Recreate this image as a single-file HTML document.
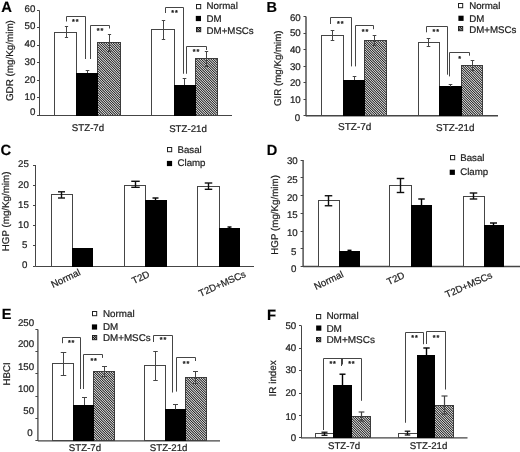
<!DOCTYPE html>
<html><head><meta charset="utf-8"><title>Figure</title>
<style>html,body{margin:0;padding:0;background:#fff;overflow:hidden;}svg{display:block;}text{font-family:"Liberation Sans",sans-serif;text-rendering:geometricPrecision;stroke:#222;stroke-width:0.22px;}</style>
</head><body>
<svg width="520" height="452" viewBox="0 0 520 452">
<defs>
<pattern id="hatch" width="48" height="48" patternUnits="userSpaceOnUse"><rect width="48" height="48" fill="#f4f4f4"/><path d="M-51.4,-1L-50.23,-1L-0.23,49L-1.4,49ZM-49,-1L-47.83,-1L2.17,49L1,49ZM-46.6,-1L-45.43,-1L4.57,49L3.4,49ZM-44.2,-1L-43.03,-1L6.97,49L5.8,49ZM-41.8,-1L-40.63,-1L9.37,49L8.2,49ZM-39.4,-1L-38.23,-1L11.77,49L10.6,49ZM-37,-1L-35.83,-1L14.17,49L13,49ZM-34.6,-1L-33.43,-1L16.57,49L15.4,49ZM-32.2,-1L-31.03,-1L18.97,49L17.8,49ZM-29.8,-1L-28.63,-1L21.37,49L20.2,49ZM-27.4,-1L-26.23,-1L23.77,49L22.6,49ZM-25,-1L-23.83,-1L26.17,49L25,49ZM-22.6,-1L-21.43,-1L28.57,49L27.4,49ZM-20.2,-1L-19.03,-1L30.97,49L29.8,49ZM-17.8,-1L-16.63,-1L33.37,49L32.2,49ZM-15.4,-1L-14.23,-1L35.77,49L34.6,49ZM-13,-1L-11.83,-1L38.17,49L37,49ZM-10.6,-1L-9.43,-1L40.57,49L39.4,49ZM-8.2,-1L-7.03,-1L42.97,49L41.8,49ZM-5.8,-1L-4.63,-1L45.37,49L44.2,49ZM-3.4,-1L-2.23,-1L47.77,49L46.6,49ZM-1,-1L0.17,-1L50.17,49L49,49ZM1.4,-1L2.57,-1L52.57,49L51.4,49ZM3.8,-1L4.97,-1L54.97,49L53.8,49ZM6.2,-1L7.37,-1L57.37,49L56.2,49ZM8.6,-1L9.77,-1L59.77,49L58.6,49ZM11,-1L12.17,-1L62.17,49L61,49ZM13.4,-1L14.57,-1L64.57,49L63.4,49ZM15.8,-1L16.97,-1L66.97,49L65.8,49ZM18.2,-1L19.37,-1L69.37,49L68.2,49ZM20.6,-1L21.77,-1L71.77,49L70.6,49ZM23,-1L24.17,-1L74.17,49L73,49ZM25.4,-1L26.57,-1L76.57,49L75.4,49ZM27.8,-1L28.97,-1L78.97,49L77.8,49ZM30.2,-1L31.37,-1L81.37,49L80.2,49ZM32.6,-1L33.77,-1L83.77,49L82.6,49ZM35,-1L36.17,-1L86.17,49L85,49ZM37.4,-1L38.57,-1L88.57,49L87.4,49ZM39.8,-1L40.97,-1L90.97,49L89.8,49ZM42.2,-1L43.37,-1L93.37,49L92.2,49ZM44.6,-1L45.77,-1L95.77,49L94.6,49ZM47,-1L48.17,-1L98.17,49L97,49Z" fill="#050505"/></pattern>
<pattern id="hatch2" width="48" height="48" patternUnits="userSpaceOnUse"><rect width="48" height="48" fill="#f4f4f4"/><path d="M-51.4,-1L-49.9,-1L0.1,49L-1.4,49ZM-49,-1L-47.5,-1L2.5,49L1,49ZM-46.6,-1L-45.1,-1L4.9,49L3.4,49ZM-44.2,-1L-42.7,-1L7.3,49L5.8,49ZM-41.8,-1L-40.3,-1L9.7,49L8.2,49ZM-39.4,-1L-37.9,-1L12.1,49L10.6,49ZM-37,-1L-35.5,-1L14.5,49L13,49ZM-34.6,-1L-33.1,-1L16.9,49L15.4,49ZM-32.2,-1L-30.7,-1L19.3,49L17.8,49ZM-29.8,-1L-28.3,-1L21.7,49L20.2,49ZM-27.4,-1L-25.9,-1L24.1,49L22.6,49ZM-25,-1L-23.5,-1L26.5,49L25,49ZM-22.6,-1L-21.1,-1L28.9,49L27.4,49ZM-20.2,-1L-18.7,-1L31.3,49L29.8,49ZM-17.8,-1L-16.3,-1L33.7,49L32.2,49ZM-15.4,-1L-13.9,-1L36.1,49L34.6,49ZM-13,-1L-11.5,-1L38.5,49L37,49ZM-10.6,-1L-9.1,-1L40.9,49L39.4,49ZM-8.2,-1L-6.7,-1L43.3,49L41.8,49ZM-5.8,-1L-4.3,-1L45.7,49L44.2,49ZM-3.4,-1L-1.9,-1L48.1,49L46.6,49ZM-1,-1L0.5,-1L50.5,49L49,49ZM1.4,-1L2.9,-1L52.9,49L51.4,49ZM3.8,-1L5.3,-1L55.3,49L53.8,49ZM6.2,-1L7.7,-1L57.7,49L56.2,49ZM8.6,-1L10.1,-1L60.1,49L58.6,49ZM11,-1L12.5,-1L62.5,49L61,49ZM13.4,-1L14.9,-1L64.9,49L63.4,49ZM15.8,-1L17.3,-1L67.3,49L65.8,49ZM18.2,-1L19.7,-1L69.7,49L68.2,49ZM20.6,-1L22.1,-1L72.1,49L70.6,49ZM23,-1L24.5,-1L74.5,49L73,49ZM25.4,-1L26.9,-1L76.9,49L75.4,49ZM27.8,-1L29.3,-1L79.3,49L77.8,49ZM30.2,-1L31.7,-1L81.7,49L80.2,49ZM32.6,-1L34.1,-1L84.1,49L82.6,49ZM35,-1L36.5,-1L86.5,49L85,49ZM37.4,-1L38.9,-1L88.9,49L87.4,49ZM39.8,-1L41.3,-1L91.3,49L89.8,49ZM42.2,-1L43.7,-1L93.7,49L92.2,49ZM44.6,-1L46.1,-1L96.1,49L94.6,49ZM47,-1L48.5,-1L98.5,49L97,49Z" fill="#050505"/></pattern>
<filter id="soft" x="0" y="0" width="520" height="452" filterUnits="userSpaceOnUse"><feGaussianBlur stdDeviation="0.35"/></filter>
</defs>
<rect width="520" height="452" fill="#fff"/>
<g filter="url(#soft)">
<rect x="97.5" y="42.5" width="23" height="73" fill="url(#hatch)" stroke="#3a3a3a" stroke-width="1"/>
<rect x="195.5" y="58.5" width="22" height="57" fill="url(#hatch)" stroke="#3a3a3a" stroke-width="1"/>
<rect x="364.5" y="40.5" width="22" height="75" fill="url(#hatch)" stroke="#3a3a3a" stroke-width="1"/>
<rect x="461.5" y="65.5" width="21" height="50" fill="url(#hatch)" stroke="#3a3a3a" stroke-width="1"/>
<rect x="93.5" y="371.5" width="21" height="69" fill="url(#hatch)" stroke="#3a3a3a" stroke-width="1"/>
<rect x="185.5" y="377.5" width="21" height="63" fill="url(#hatch)" stroke="#3a3a3a" stroke-width="1"/>
<rect x="351.5" y="416.5" width="19" height="21" fill="url(#hatch)" stroke="#3a3a3a" stroke-width="1"/>
<rect x="434.5" y="405.5" width="19" height="32" fill="url(#hatch)" stroke="#3a3a3a" stroke-width="1"/>
<text x="1.3" y="11.5" font-size="14.8" text-anchor="start" font-weight="bold" fill="#000">A</text>
<line x1="39.5" y1="10.5" x2="39.5" y2="115.5" stroke="#444" stroke-width="1"/>
<line x1="37" y1="115.5" x2="39.5" y2="115.5" stroke="#444" stroke-width="1"/>
<text x="35.3" y="115.1" font-size="9.7" text-anchor="end" font-weight="normal" fill="#1c1c1c">0</text>
<line x1="37" y1="97.5" x2="39.5" y2="97.5" stroke="#444" stroke-width="1"/>
<text x="35.3" y="99.6" font-size="9.7" text-anchor="end" font-weight="normal" fill="#1c1c1c">10</text>
<line x1="37" y1="80.5" x2="39.5" y2="80.5" stroke="#444" stroke-width="1"/>
<text x="35.3" y="82.5" font-size="9.7" text-anchor="end" font-weight="normal" fill="#1c1c1c">20</text>
<line x1="37" y1="62.5" x2="39.5" y2="62.5" stroke="#444" stroke-width="1"/>
<text x="35.3" y="64.5" font-size="9.7" text-anchor="end" font-weight="normal" fill="#1c1c1c">30</text>
<line x1="37" y1="45.5" x2="39.5" y2="45.5" stroke="#444" stroke-width="1"/>
<text x="35.3" y="46.5" font-size="9.7" text-anchor="end" font-weight="normal" fill="#1c1c1c">40</text>
<line x1="37" y1="27.5" x2="39.5" y2="27.5" stroke="#444" stroke-width="1"/>
<text x="35.3" y="29.3" font-size="9.7" text-anchor="end" font-weight="normal" fill="#1c1c1c">50</text>
<line x1="37" y1="10.5" x2="39.5" y2="10.5" stroke="#444" stroke-width="1"/>
<text x="35.3" y="12.1" font-size="9.7" text-anchor="end" font-weight="normal" fill="#1c1c1c">60</text>
<line x1="39" y1="115.5" x2="232" y2="115.5" stroke="#444" stroke-width="1"/>
<text x="10.3" y="60.6" font-size="9.85" text-anchor="middle" font-weight="normal" fill="#1c1c1c" transform="rotate(-90 10.3 60.6)" dominant-baseline="middle">GDR (mg/Kg/mim)</text>
<rect x="54.5" y="32.5" width="22" height="83" fill="#fff" stroke="#444" stroke-width="1"/>
<rect x="76.5" y="73.5" width="21" height="42" fill="#000" stroke="#000" stroke-width="1"/>
<line x1="66.5" y1="26.7" x2="66.5" y2="37.5" stroke="#444" stroke-width="1"/>
<line x1="64.9" y1="26.5" x2="68.1" y2="26.5" stroke="#444" stroke-width="1"/>
<line x1="64.9" y1="37.5" x2="68.1" y2="37.5" stroke="#444" stroke-width="1"/>
<line x1="87.5" y1="70" x2="87.5" y2="73" stroke="#444" stroke-width="1"/>
<line x1="85.7" y1="70.5" x2="89.3" y2="70.5" stroke="#444" stroke-width="1"/>
<line x1="109.5" y1="34" x2="109.5" y2="51" stroke="#444" stroke-width="1"/>
<line x1="107.9" y1="34.5" x2="111.1" y2="34.5" stroke="#444" stroke-width="1"/>
<line x1="107.9" y1="51.5" x2="111.1" y2="51.5" stroke="#444" stroke-width="1"/>
<rect x="151.5" y="29.5" width="23" height="86" fill="#fff" stroke="#444" stroke-width="1"/>
<rect x="174.5" y="85.5" width="21" height="30" fill="#000" stroke="#000" stroke-width="1"/>
<line x1="163.5" y1="20.3" x2="163.5" y2="39" stroke="#444" stroke-width="1"/>
<line x1="161.8" y1="20.5" x2="165.2" y2="20.5" stroke="#444" stroke-width="1"/>
<line x1="161.8" y1="39.5" x2="165.2" y2="39.5" stroke="#444" stroke-width="1"/>
<line x1="184.5" y1="78.75" x2="184.5" y2="85" stroke="#444" stroke-width="1"/>
<line x1="182.7" y1="78.5" x2="186.3" y2="78.5" stroke="#444" stroke-width="1"/>
<line x1="206.5" y1="51.25" x2="206.5" y2="66.25" stroke="#444" stroke-width="1"/>
<line x1="204.8" y1="51.5" x2="208.2" y2="51.5" stroke="#444" stroke-width="1"/>
<line x1="204.8" y1="66.5" x2="208.2" y2="66.5" stroke="#444" stroke-width="1"/>
<polyline points="66.5,21.5 66.5,16.5 85.5,16.5 85.5,59" fill="none" stroke="#444" stroke-width="1"/>
<text x="75.7" y="24.1" font-size="7.2" text-anchor="middle" font-weight="bold" fill="#111" letter-spacing="0.8">**</text>
<polyline points="90.5,59 90.5,25.5 109.5,25.5 109.5,28.5" fill="none" stroke="#444" stroke-width="1"/>
<text x="100.4" y="32.8" font-size="7.2" text-anchor="middle" font-weight="bold" fill="#111" letter-spacing="0.8">**</text>
<polyline points="165.5,13 165.5,7.5 183.5,7.5 183.5,73.75" fill="none" stroke="#444" stroke-width="1"/>
<text x="174.9" y="15.1" font-size="7.2" text-anchor="middle" font-weight="bold" fill="#111" letter-spacing="0.8">**</text>
<polyline points="186.5,73.75 186.5,46.5 206.5,46.5 206.5,50" fill="none" stroke="#444" stroke-width="1"/>
<text x="196.4" y="53.9" font-size="7.2" text-anchor="middle" font-weight="bold" fill="#111" letter-spacing="0.8">**</text>
<text x="88" y="130.8" font-size="9.7" text-anchor="middle" font-weight="normal" fill="#1c1c1c">STZ-7d</text>
<text x="188" y="132.3" font-size="9.7" text-anchor="middle" font-weight="normal" fill="#1c1c1c">STZ-21d</text>
<rect x="196.5" y="4.5" width="4.2" height="4.2" fill="#fff" stroke="#222" stroke-width="1"/>
<text x="206.6" y="8.8" font-size="9.7" text-anchor="start" font-weight="normal" fill="#1c1c1c">Normal</text>
<rect x="195.8" y="15.9" width="5.2" height="5.2" fill="#000"/>
<text x="206.6" y="22.1" font-size="9.7" text-anchor="start" font-weight="normal" fill="#1c1c1c">DM</text>
<rect x="196.5" y="27.5" width="4.2" height="4.2" fill="url(#hatch2)" stroke="#222" stroke-width="1"/>
<text x="206.6" y="33.5" font-size="9.7" text-anchor="start" font-weight="normal" fill="#1c1c1c">DM+MSCs</text>
<text x="266.5" y="12" font-size="14.5" text-anchor="start" font-weight="bold" fill="#000">B</text>
<line x1="306" y1="16.6" x2="306" y2="116.3" stroke="#444" stroke-width="1.4"/>
<line x1="303.5" y1="115.5" x2="306" y2="115.5" stroke="#444" stroke-width="1"/>
<text x="300.1" y="120.5" font-size="9.7" text-anchor="end" font-weight="normal" fill="#1c1c1c">0</text>
<line x1="303.5" y1="99.5" x2="306" y2="99.5" stroke="#444" stroke-width="1"/>
<text x="300.7" y="102.8" font-size="9.7" text-anchor="end" font-weight="normal" fill="#1c1c1c">10</text>
<line x1="303.5" y1="82.5" x2="306" y2="82.5" stroke="#444" stroke-width="1"/>
<text x="300.7" y="86.3" font-size="9.7" text-anchor="end" font-weight="normal" fill="#1c1c1c">20</text>
<line x1="303.5" y1="66.5" x2="306" y2="66.5" stroke="#444" stroke-width="1"/>
<text x="300.7" y="69.5" font-size="9.7" text-anchor="end" font-weight="normal" fill="#1c1c1c">30</text>
<line x1="303.5" y1="49.5" x2="306" y2="49.5" stroke="#444" stroke-width="1"/>
<text x="300.7" y="52.7" font-size="9.7" text-anchor="end" font-weight="normal" fill="#1c1c1c">40</text>
<line x1="303.5" y1="33.5" x2="306" y2="33.5" stroke="#444" stroke-width="1"/>
<text x="300.7" y="36.4" font-size="9.7" text-anchor="end" font-weight="normal" fill="#1c1c1c">50</text>
<line x1="303.5" y1="16.5" x2="306" y2="16.5" stroke="#444" stroke-width="1"/>
<text x="300.7" y="21.2" font-size="9.7" text-anchor="end" font-weight="normal" fill="#1c1c1c">60</text>
<line x1="306" y1="115.8" x2="498" y2="115.8" stroke="#444" stroke-width="1.4"/>
<text x="278.6" y="68.2" font-size="9.72" text-anchor="middle" font-weight="normal" fill="#1c1c1c" transform="rotate(-90 278.6 68.2)" dominant-baseline="middle">GIR (mg/Kg/mim)</text>
<rect x="321.5" y="35.5" width="22" height="80" fill="#fff" stroke="#444" stroke-width="1"/>
<rect x="343.5" y="80.5" width="21" height="35" fill="#000" stroke="#000" stroke-width="1"/>
<line x1="332.5" y1="30.4" x2="332.5" y2="40.5" stroke="#444" stroke-width="1"/>
<line x1="330.7" y1="30.5" x2="334.3" y2="30.5" stroke="#444" stroke-width="1"/>
<line x1="330.7" y1="40.5" x2="334.3" y2="40.5" stroke="#444" stroke-width="1"/>
<line x1="354.5" y1="76" x2="354.5" y2="80" stroke="#444" stroke-width="1"/>
<line x1="352.7" y1="76.5" x2="356.3" y2="76.5" stroke="#444" stroke-width="1"/>
<line x1="374.5" y1="35.3" x2="374.5" y2="45.7" stroke="#444" stroke-width="1"/>
<line x1="372.7" y1="35.5" x2="376.3" y2="35.5" stroke="#444" stroke-width="1"/>
<line x1="372.7" y1="45.5" x2="376.3" y2="45.5" stroke="#444" stroke-width="1"/>
<rect x="418.5" y="42.5" width="21" height="73" fill="#fff" stroke="#444" stroke-width="1"/>
<rect x="439.5" y="86.5" width="22" height="29" fill="#000" stroke="#000" stroke-width="1"/>
<line x1="428.5" y1="38.9" x2="428.5" y2="46.1" stroke="#444" stroke-width="1"/>
<line x1="426.7" y1="38.5" x2="430.3" y2="38.5" stroke="#444" stroke-width="1"/>
<line x1="426.7" y1="46.5" x2="430.3" y2="46.5" stroke="#444" stroke-width="1"/>
<line x1="450.5" y1="84.7" x2="450.5" y2="86.8" stroke="#444" stroke-width="1"/>
<line x1="448.7" y1="84.5" x2="452.3" y2="84.5" stroke="#444" stroke-width="1"/>
<line x1="472.5" y1="60.8" x2="472.5" y2="70.4" stroke="#444" stroke-width="1"/>
<line x1="470.7" y1="60.5" x2="474.3" y2="60.5" stroke="#444" stroke-width="1"/>
<line x1="470.7" y1="70.5" x2="474.3" y2="70.5" stroke="#444" stroke-width="1"/>
<polyline points="330.5,24 330.5,17.5 351.5,17.5 351.5,66.4" fill="none" stroke="#444" stroke-width="1"/>
<text x="340.7" y="25.6" font-size="7.2" text-anchor="middle" font-weight="bold" fill="#111" letter-spacing="0.8">**</text>
<polyline points="355.5,66.4 355.5,25.5 373.5,25.5 373.5,29.2" fill="none" stroke="#444" stroke-width="1"/>
<text x="365.4" y="34.2" font-size="7.2" text-anchor="middle" font-weight="bold" fill="#111" letter-spacing="0.8">**</text>
<polyline points="426.5,32.3 426.5,26.5 447.5,26.5 447.5,74.7" fill="none" stroke="#444" stroke-width="1"/>
<text x="436.2" y="33.8" font-size="7.2" text-anchor="middle" font-weight="bold" fill="#111" letter-spacing="0.8">**</text>
<polyline points="449.5,76.4 449.5,52.5 469.5,52.5 469.5,55.7" fill="none" stroke="#444" stroke-width="1"/>
<text x="460" y="60.6" font-size="7.2" text-anchor="middle" font-weight="bold" fill="#111" letter-spacing="0.8">*</text>
<text x="354.7" y="129.7" font-size="10" text-anchor="middle" font-weight="normal" fill="#1c1c1c">STZ-7d</text>
<text x="455.3" y="130.8" font-size="9.9" text-anchor="middle" font-weight="normal" fill="#1c1c1c">STZ-21d</text>
<rect x="458.5" y="3.5" width="4.2" height="4.2" fill="#fff" stroke="#222" stroke-width="1"/>
<text x="469.2" y="8.5" font-size="9.7" text-anchor="start" font-weight="normal" fill="#1c1c1c">Normal</text>
<rect x="458.4" y="15.7" width="5.2" height="5.2" fill="#000"/>
<text x="469.2" y="21.5" font-size="9.7" text-anchor="start" font-weight="normal" fill="#1c1c1c">DM</text>
<rect x="458.5" y="26.5" width="4.2" height="4.2" fill="url(#hatch2)" stroke="#222" stroke-width="1"/>
<text x="469.2" y="32.7" font-size="9.7" text-anchor="start" font-weight="normal" fill="#1c1c1c">DM+MSCs</text>
<text x="0.6" y="154.9" font-size="14.8" text-anchor="start" font-weight="bold" fill="#000">C</text>
<line x1="35.5" y1="165" x2="35.5" y2="266.5" stroke="#444" stroke-width="1"/>
<line x1="33" y1="266.5" x2="35.5" y2="266.5" stroke="#444" stroke-width="1"/>
<text x="27.3" y="268.3" font-size="9.7" text-anchor="end" font-weight="normal" fill="#1c1c1c">0</text>
<line x1="33" y1="245.5" x2="35.5" y2="245.5" stroke="#444" stroke-width="1"/>
<text x="27.3" y="247.9" font-size="9.7" text-anchor="end" font-weight="normal" fill="#1c1c1c">5</text>
<line x1="33" y1="225.5" x2="35.5" y2="225.5" stroke="#444" stroke-width="1"/>
<text x="28.8" y="227.9" font-size="9.7" text-anchor="end" font-weight="normal" fill="#1c1c1c">10</text>
<line x1="33" y1="205.5" x2="35.5" y2="205.5" stroke="#444" stroke-width="1"/>
<text x="28.8" y="207.7" font-size="9.7" text-anchor="end" font-weight="normal" fill="#1c1c1c">15</text>
<line x1="33" y1="185.5" x2="35.5" y2="185.5" stroke="#444" stroke-width="1"/>
<text x="28.8" y="188" font-size="9.7" text-anchor="end" font-weight="normal" fill="#1c1c1c">20</text>
<line x1="33" y1="165.5" x2="35.5" y2="165.5" stroke="#444" stroke-width="1"/>
<text x="28.8" y="167.3" font-size="9.7" text-anchor="end" font-weight="normal" fill="#1c1c1c">25</text>
<line x1="35.5" y1="266.5" x2="254" y2="266.5" stroke="#444" stroke-width="1"/>
<text x="6.3" y="211.4" font-size="9.78" text-anchor="middle" font-weight="normal" fill="#1c1c1c" transform="rotate(-90 6.3 211.4)" dominant-baseline="middle">HGP (mg/Kg/mim)</text>
<rect x="51.5" y="194.5" width="21" height="72" fill="#fff" stroke="#444" stroke-width="1"/>
<rect x="72.5" y="248.5" width="20" height="18" fill="#000" stroke="#000" stroke-width="1"/>
<line x1="61.5" y1="191.8" x2="61.5" y2="198" stroke="#111" stroke-width="1.4"/>
<line x1="58" y1="191.8" x2="65" y2="191.8" stroke="#111" stroke-width="1.4"/>
<line x1="58" y1="198" x2="65" y2="198" stroke="#111" stroke-width="1.4"/>
<rect x="124.5" y="185.5" width="21" height="81" fill="#fff" stroke="#444" stroke-width="1"/>
<rect x="145.5" y="200.5" width="21" height="66" fill="#000" stroke="#000" stroke-width="1"/>
<line x1="135.5" y1="181.3" x2="135.5" y2="187.3" stroke="#111" stroke-width="1.4"/>
<line x1="131.25" y1="181.3" x2="139.75" y2="181.3" stroke="#111" stroke-width="1.4"/>
<line x1="131.25" y1="187.3" x2="139.75" y2="187.3" stroke="#111" stroke-width="1.4"/>
<line x1="155.5" y1="198" x2="155.5" y2="200.3" stroke="#000" stroke-width="1.4"/>
<line x1="152.5" y1="198" x2="158.5" y2="198" stroke="#000" stroke-width="1.4"/>
<rect x="197.5" y="186.5" width="22" height="80" fill="#fff" stroke="#444" stroke-width="1"/>
<rect x="219.5" y="228.5" width="20" height="38" fill="#000" stroke="#000" stroke-width="1"/>
<line x1="208.5" y1="183" x2="208.5" y2="189.3" stroke="#111" stroke-width="1.4"/>
<line x1="204.75" y1="183" x2="212.25" y2="183" stroke="#111" stroke-width="1.4"/>
<line x1="204.75" y1="189.3" x2="212.25" y2="189.3" stroke="#111" stroke-width="1.4"/>
<line x1="229.5" y1="227" x2="229.5" y2="228" stroke="#000" stroke-width="1.4"/>
<line x1="227.5" y1="227" x2="231.5" y2="227" stroke="#000" stroke-width="1.4"/>
<rect x="167.5" y="147.5" width="4.2" height="4.2" fill="#fff" stroke="#222" stroke-width="1"/>
<text x="177.5" y="152.5" font-size="9.7" text-anchor="start" font-weight="normal" fill="#1c1c1c">Basal</text>
<rect x="166.9" y="160.9" width="5.2" height="5.2" fill="#000"/>
<text x="177.5" y="165.7" font-size="9.7" text-anchor="start" font-weight="normal" fill="#1c1c1c">Clamp</text>
<text x="66" y="279" font-size="9.7" text-anchor="middle" font-weight="normal" fill="#1c1c1c" transform="rotate(-25.5 66 279)" dominant-baseline="middle">Normal</text>
<text x="141" y="278" font-size="9.7" text-anchor="middle" font-weight="normal" fill="#1c1c1c" transform="rotate(-25.5 141 278)" dominant-baseline="middle">T2D</text>
<text x="222.5" y="284.3" font-size="9.7" text-anchor="middle" font-weight="normal" fill="#1c1c1c" transform="rotate(-24 222.5 284.3)" dominant-baseline="middle">T2D+MSCs</text>
<text x="266.7" y="154.8" font-size="14.6" text-anchor="start" font-weight="bold" fill="#000">D</text>
<line x1="303.1" y1="160.1" x2="303.1" y2="267" stroke="#444" stroke-width="1.4"/>
<line x1="300.6" y1="266.5" x2="303.1" y2="266.5" stroke="#444" stroke-width="1"/>
<text x="296.3" y="271.5" font-size="9.7" text-anchor="end" font-weight="normal" fill="#1c1c1c">0</text>
<line x1="300.6" y1="248.5" x2="303.1" y2="248.5" stroke="#444" stroke-width="1"/>
<text x="296.3" y="254.5" font-size="9.7" text-anchor="end" font-weight="normal" fill="#1c1c1c">5</text>
<line x1="300.6" y1="231.5" x2="303.1" y2="231.5" stroke="#444" stroke-width="1"/>
<text x="297.7" y="236.3" font-size="9.7" text-anchor="end" font-weight="normal" fill="#1c1c1c">10</text>
<line x1="300.6" y1="213.5" x2="303.1" y2="213.5" stroke="#444" stroke-width="1"/>
<text x="297.7" y="218.3" font-size="9.7" text-anchor="end" font-weight="normal" fill="#1c1c1c">15</text>
<line x1="300.6" y1="195.5" x2="303.1" y2="195.5" stroke="#444" stroke-width="1"/>
<text x="297.7" y="200.5" font-size="9.7" text-anchor="end" font-weight="normal" fill="#1c1c1c">20</text>
<line x1="300.6" y1="177.5" x2="303.1" y2="177.5" stroke="#444" stroke-width="1"/>
<text x="297.7" y="183" font-size="9.7" text-anchor="end" font-weight="normal" fill="#1c1c1c">25</text>
<line x1="300.6" y1="160.5" x2="303.1" y2="160.5" stroke="#444" stroke-width="1"/>
<text x="297.7" y="164.4" font-size="9.7" text-anchor="end" font-weight="normal" fill="#1c1c1c">30</text>
<line x1="303.1" y1="266.5" x2="520" y2="266.5" stroke="#444" stroke-width="1.3"/>
<text x="275.3" y="214.9" font-size="9.78" text-anchor="middle" font-weight="normal" fill="#1c1c1c" transform="rotate(-90 275.3 214.9)" dominant-baseline="middle">HGP (mg/Kg/mim)</text>
<rect x="318.5" y="200.5" width="21" height="66" fill="#fff" stroke="#444" stroke-width="1"/>
<rect x="339.5" y="251.5" width="20" height="15" fill="#000" stroke="#000" stroke-width="1"/>
<line x1="328.5" y1="195.75" x2="328.5" y2="205.75" stroke="#111" stroke-width="1.4"/>
<line x1="324.75" y1="195.75" x2="332.25" y2="195.75" stroke="#111" stroke-width="1.4"/>
<line x1="324.75" y1="205.75" x2="332.25" y2="205.75" stroke="#111" stroke-width="1.4"/>
<line x1="349.5" y1="250.3" x2="349.5" y2="251.5" stroke="#000" stroke-width="1.4"/>
<line x1="347.5" y1="250.3" x2="351.5" y2="250.3" stroke="#000" stroke-width="1.4"/>
<rect x="389.5" y="185.5" width="22" height="81" fill="#fff" stroke="#444" stroke-width="1"/>
<rect x="411.5" y="205.5" width="20" height="61" fill="#000" stroke="#000" stroke-width="1"/>
<line x1="400.5" y1="178.5" x2="400.5" y2="192.5" stroke="#111" stroke-width="1.4"/>
<line x1="396.75" y1="178.5" x2="404.25" y2="178.5" stroke="#111" stroke-width="1.4"/>
<line x1="396.75" y1="192.5" x2="404.25" y2="192.5" stroke="#111" stroke-width="1.4"/>
<line x1="421.5" y1="199" x2="421.5" y2="205.5" stroke="#000" stroke-width="1.4"/>
<line x1="418.25" y1="199" x2="424.75" y2="199" stroke="#000" stroke-width="1.4"/>
<rect x="463.5" y="196.5" width="21" height="70" fill="#fff" stroke="#444" stroke-width="1"/>
<rect x="484.5" y="225.5" width="19" height="41" fill="#000" stroke="#000" stroke-width="1"/>
<line x1="473.5" y1="193" x2="473.5" y2="199" stroke="#111" stroke-width="1.4"/>
<line x1="469.75" y1="193" x2="477.25" y2="193" stroke="#111" stroke-width="1.4"/>
<line x1="469.75" y1="199" x2="477.25" y2="199" stroke="#111" stroke-width="1.4"/>
<line x1="493.5" y1="223" x2="493.5" y2="225.5" stroke="#000" stroke-width="1.4"/>
<line x1="490" y1="223" x2="497" y2="223" stroke="#000" stroke-width="1.4"/>
<rect x="450.5" y="155.5" width="4.2" height="4.2" fill="#fff" stroke="#222" stroke-width="1"/>
<text x="460.2" y="160.5" font-size="9.7" text-anchor="start" font-weight="normal" fill="#1c1c1c">Basal</text>
<rect x="449.7" y="169.7" width="5.2" height="5.2" fill="#000"/>
<text x="460.2" y="174.9" font-size="9.7" text-anchor="start" font-weight="normal" fill="#1c1c1c">Clamp</text>
<text x="329" y="281" font-size="9.7" text-anchor="middle" font-weight="normal" fill="#1c1c1c" transform="rotate(-25.5 329 281)" dominant-baseline="middle">Normal</text>
<text x="396" y="279" font-size="9.7" text-anchor="middle" font-weight="normal" fill="#1c1c1c" transform="rotate(-25.5 396 279)" dominant-baseline="middle">T2D</text>
<text x="469" y="285.5" font-size="9.7" text-anchor="middle" font-weight="normal" fill="#1c1c1c" transform="rotate(-24 469 285.5)" dominant-baseline="middle">T2D+MSCs</text>
<text x="1.7" y="319.2" font-size="14.6" text-anchor="start" font-weight="bold" fill="#000">E</text>
<line x1="37.9" y1="329.6" x2="37.9" y2="441" stroke="#444" stroke-width="1.3"/>
<line x1="35.4" y1="440.5" x2="37.9" y2="440.5" stroke="#444" stroke-width="1"/>
<text x="32.6" y="436.25" font-size="9.7" text-anchor="end" font-weight="normal" fill="#1c1c1c">0</text>
<line x1="35.4" y1="418.5" x2="37.9" y2="418.5" stroke="#444" stroke-width="1"/>
<text x="34.1" y="413.5" font-size="9.7" text-anchor="end" font-weight="normal" fill="#1c1c1c">50</text>
<line x1="35.4" y1="396.5" x2="37.9" y2="396.5" stroke="#444" stroke-width="1"/>
<text x="34.1" y="392.1" font-size="9.7" text-anchor="end" font-weight="normal" fill="#1c1c1c">100</text>
<line x1="35.4" y1="373.5" x2="37.9" y2="373.5" stroke="#444" stroke-width="1"/>
<text x="34.1" y="369.6" font-size="9.7" text-anchor="end" font-weight="normal" fill="#1c1c1c">150</text>
<line x1="35.4" y1="351.5" x2="37.9" y2="351.5" stroke="#444" stroke-width="1"/>
<text x="34.1" y="347.1" font-size="9.7" text-anchor="end" font-weight="normal" fill="#1c1c1c">200</text>
<line x1="35.4" y1="329.5" x2="37.9" y2="329.5" stroke="#444" stroke-width="1"/>
<text x="34.1" y="326.1" font-size="9.7" text-anchor="end" font-weight="normal" fill="#1c1c1c">250</text>
<line x1="37.9" y1="440.9" x2="220" y2="440.9" stroke="#444" stroke-width="1.3"/>
<text x="7.2" y="373.9" font-size="9.7" text-anchor="middle" font-weight="normal" fill="#1c1c1c" transform="rotate(-90 7.2 373.9)" dominant-baseline="middle">HBCI</text>
<rect x="52.5" y="363.5" width="21" height="77" fill="#fff" stroke="#444" stroke-width="1"/>
<rect x="73.5" y="405.5" width="20" height="35" fill="#000" stroke="#000" stroke-width="1"/>
<line x1="63.5" y1="352.3" x2="63.5" y2="375.2" stroke="#444" stroke-width="1"/>
<line x1="60.75" y1="352.5" x2="66.25" y2="352.5" stroke="#444" stroke-width="1"/>
<line x1="60.75" y1="375.5" x2="66.25" y2="375.5" stroke="#444" stroke-width="1"/>
<line x1="84.5" y1="397.7" x2="84.5" y2="405" stroke="#444" stroke-width="1"/>
<line x1="82" y1="397.5" x2="87" y2="397.5" stroke="#444" stroke-width="1"/>
<line x1="104.5" y1="366.5" x2="104.5" y2="376" stroke="#444" stroke-width="1"/>
<line x1="102" y1="366.5" x2="107" y2="366.5" stroke="#444" stroke-width="1"/>
<line x1="102" y1="376.5" x2="107" y2="376.5" stroke="#444" stroke-width="1"/>
<rect x="144.5" y="365.5" width="21" height="75" fill="#fff" stroke="#444" stroke-width="1"/>
<rect x="165.5" y="409.5" width="20" height="31" fill="#000" stroke="#000" stroke-width="1"/>
<line x1="155.5" y1="351.5" x2="155.5" y2="380" stroke="#444" stroke-width="1"/>
<line x1="153.25" y1="351.5" x2="157.75" y2="351.5" stroke="#444" stroke-width="1"/>
<line x1="153.25" y1="380.5" x2="157.75" y2="380.5" stroke="#444" stroke-width="1"/>
<line x1="175.5" y1="404.5" x2="175.5" y2="409.5" stroke="#444" stroke-width="1"/>
<line x1="173" y1="404.5" x2="178" y2="404.5" stroke="#444" stroke-width="1"/>
<line x1="195.5" y1="371.4" x2="195.5" y2="383.8" stroke="#444" stroke-width="1"/>
<line x1="193" y1="371.5" x2="198" y2="371.5" stroke="#444" stroke-width="1"/>
<line x1="193" y1="383.5" x2="198" y2="383.5" stroke="#444" stroke-width="1"/>
<polyline points="62.5,343.2 62.5,337.5 80.5,337.5 80.5,389" fill="none" stroke="#444" stroke-width="1"/>
<text x="71.5" y="345" font-size="7.2" text-anchor="middle" font-weight="bold" fill="#111" letter-spacing="0.8">**</text>
<polyline points="83.5,389 83.5,354.5 102.5,354.5 102.5,357.9" fill="none" stroke="#444" stroke-width="1"/>
<text x="94" y="362.9" font-size="7.2" text-anchor="middle" font-weight="bold" fill="#111" letter-spacing="0.8">**</text>
<polyline points="153.5,342 153.5,335.5 172.5,335.5 172.5,392.5" fill="none" stroke="#444" stroke-width="1"/>
<text x="163.4" y="342.4" font-size="7.2" text-anchor="middle" font-weight="bold" fill="#111" letter-spacing="0.8">**</text>
<polyline points="176.5,391.6 176.5,357.5 195.5,357.5 195.5,361" fill="none" stroke="#444" stroke-width="1"/>
<text x="186.4" y="365.8" font-size="7.2" text-anchor="middle" font-weight="bold" fill="#111" letter-spacing="0.8">**</text>
<text x="85" y="451.3" font-size="9.7" text-anchor="middle" font-weight="normal" fill="#1c1c1c">STZ-7d</text>
<text x="168.6" y="451" font-size="9.7" text-anchor="middle" font-weight="normal" fill="#1c1c1c">STZ-21d</text>
<rect x="92.5" y="311.5" width="4.2" height="4.2" fill="#fff" stroke="#222" stroke-width="1"/>
<text x="103" y="316.8" font-size="9.8" text-anchor="start" font-weight="normal" fill="#1c1c1c">Normal</text>
<rect x="91.9" y="324.4" width="5.2" height="5.2" fill="#000"/>
<text x="103" y="329.8" font-size="9.8" text-anchor="start" font-weight="normal" fill="#1c1c1c">DM</text>
<rect x="92.5" y="335.5" width="4.2" height="4.2" fill="url(#hatch2)" stroke="#222" stroke-width="1"/>
<text x="103" y="340.6" font-size="9.8" text-anchor="start" font-weight="normal" fill="#1c1c1c">DM+MSCs</text>
<text x="266.9" y="319.6" font-size="14.8" text-anchor="start" font-weight="bold" fill="#000">F</text>
<line x1="301.5" y1="325.8" x2="301.5" y2="438.3" stroke="#444" stroke-width="1"/>
<line x1="299" y1="437.5" x2="301.5" y2="437.5" stroke="#444" stroke-width="1"/>
<text x="296.2" y="441.3" font-size="9.7" text-anchor="end" font-weight="normal" fill="#1c1c1c">0</text>
<line x1="299" y1="415.5" x2="301.5" y2="415.5" stroke="#444" stroke-width="1"/>
<text x="296.2" y="419.9" font-size="9.7" text-anchor="end" font-weight="normal" fill="#1c1c1c">10</text>
<line x1="299" y1="393.5" x2="301.5" y2="393.5" stroke="#444" stroke-width="1"/>
<text x="296.2" y="396.1" font-size="9.7" text-anchor="end" font-weight="normal" fill="#1c1c1c">20</text>
<line x1="299" y1="370.5" x2="301.5" y2="370.5" stroke="#444" stroke-width="1"/>
<text x="296.2" y="373.2" font-size="9.7" text-anchor="end" font-weight="normal" fill="#1c1c1c">30</text>
<line x1="299" y1="348.5" x2="301.5" y2="348.5" stroke="#444" stroke-width="1"/>
<text x="296.2" y="350.8" font-size="9.7" text-anchor="end" font-weight="normal" fill="#1c1c1c">40</text>
<line x1="299" y1="325.5" x2="301.5" y2="325.5" stroke="#444" stroke-width="1"/>
<text x="296.2" y="328.8" font-size="9.7" text-anchor="end" font-weight="normal" fill="#1c1c1c">50</text>
<line x1="301.25" y1="437.8" x2="467.5" y2="437.8" stroke="#444" stroke-width="1.3"/>
<text x="273.1" y="378.3" font-size="9.9" text-anchor="middle" font-weight="normal" fill="#1c1c1c" transform="rotate(-90 273.1 378.3)" dominant-baseline="middle">IR index</text>
<rect x="315.5" y="433.5" width="18" height="4" fill="#fff" stroke="#444" stroke-width="1"/>
<rect x="333.5" y="385.5" width="18" height="52" fill="#000" stroke="#000" stroke-width="1"/>
<line x1="324.5" y1="432.2" x2="324.5" y2="435.3" stroke="#111" stroke-width="1.3"/>
<line x1="321.5" y1="432.2" x2="327.5" y2="432.2" stroke="#111" stroke-width="1.3"/>
<line x1="321.5" y1="435.3" x2="327.5" y2="435.3" stroke="#111" stroke-width="1.3"/>
<line x1="342.5" y1="374.2" x2="342.5" y2="385.8" stroke="#000" stroke-width="1.4"/>
<line x1="339.5" y1="374.2" x2="345.5" y2="374.2" stroke="#000" stroke-width="1.4"/>
<line x1="361.5" y1="412" x2="361.5" y2="421" stroke="#444" stroke-width="1.2"/>
<line x1="358.65" y1="412" x2="364.35" y2="412" stroke="#444" stroke-width="1.2"/>
<line x1="358.65" y1="421" x2="364.35" y2="421" stroke="#444" stroke-width="1.2"/>
<rect x="398.5" y="433.5" width="19" height="4" fill="#fff" stroke="#444" stroke-width="1"/>
<rect x="417.5" y="355.5" width="17" height="82" fill="#000" stroke="#000" stroke-width="1"/>
<line x1="407.5" y1="431.2" x2="407.5" y2="435" stroke="#111" stroke-width="1.3"/>
<line x1="404.75" y1="431.2" x2="410.25" y2="431.2" stroke="#111" stroke-width="1.3"/>
<line x1="404.75" y1="435" x2="410.25" y2="435" stroke="#111" stroke-width="1.3"/>
<line x1="426.5" y1="348" x2="426.5" y2="355.5" stroke="#000" stroke-width="1.4"/>
<line x1="423.3" y1="348" x2="429.7" y2="348" stroke="#000" stroke-width="1.4"/>
<line x1="444.5" y1="396" x2="444.5" y2="414" stroke="#444" stroke-width="1.2"/>
<line x1="441.5" y1="396" x2="447.5" y2="396" stroke="#444" stroke-width="1.2"/>
<line x1="441.5" y1="414" x2="447.5" y2="414" stroke="#444" stroke-width="1.2"/>
<polyline points="323.5,430 323.5,358.5 361.5,358.5 361.5,400.8" fill="none" stroke="#444" stroke-width="1"/>
<line x1="341.5" y1="358.4" x2="341.5" y2="366" stroke="#444" stroke-width="1"/>
<line x1="342.5" y1="358.4" x2="342.5" y2="364.5" stroke="#444" stroke-width="1"/>
<text x="333.1" y="366.1" font-size="7.2" text-anchor="middle" font-weight="bold" fill="#111" letter-spacing="0.8">**</text>
<text x="351.8" y="366.1" font-size="7.2" text-anchor="middle" font-weight="bold" fill="#111" letter-spacing="0.8">**</text>
<polyline points="405.5,422.75 405.5,332.5 423.5,332.5 423.5,344.2" fill="none" stroke="#444" stroke-width="1"/>
<polyline points="426.5,344 426.5,331.5 445.5,331.5 445.5,389.5" fill="none" stroke="#444" stroke-width="1"/>
<text x="414.9" y="340.4" font-size="7.2" text-anchor="middle" font-weight="bold" fill="#111" letter-spacing="0.8">**</text>
<text x="436.4" y="340.1" font-size="7.2" text-anchor="middle" font-weight="bold" fill="#111" letter-spacing="0.8">**</text>
<text x="344.1" y="448.8" font-size="9.7" text-anchor="middle" font-weight="normal" fill="#1c1c1c">STZ-7d</text>
<text x="428.5" y="449" font-size="9.7" text-anchor="middle" font-weight="normal" fill="#1c1c1c">STZ-21d</text>
<rect x="316.5" y="314.5" width="4.2" height="4.2" fill="#fff" stroke="#222" stroke-width="1"/>
<text x="326.4" y="318.8" font-size="10" text-anchor="start" font-weight="normal" fill="#1c1c1c">Normal</text>
<rect x="316.15" y="325.5" width="5.2" height="5.2" fill="#000"/>
<text x="326.4" y="331.8" font-size="10" text-anchor="start" font-weight="normal" fill="#1c1c1c">DM</text>
<rect x="316.5" y="337.5" width="4.2" height="4.2" fill="url(#hatch2)" stroke="#222" stroke-width="1"/>
<text x="326.4" y="343.3" font-size="10" text-anchor="start" font-weight="normal" fill="#1c1c1c">DM+MSCs</text>
</g>
</svg>
</body></html>
